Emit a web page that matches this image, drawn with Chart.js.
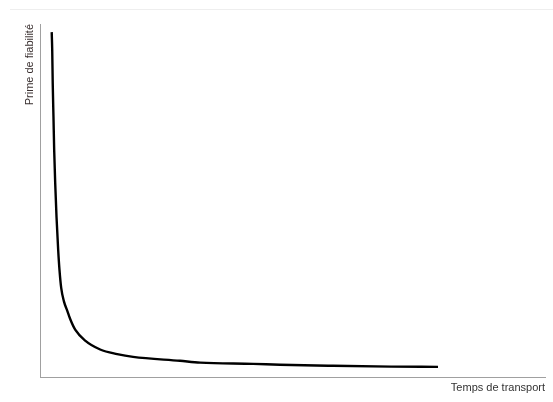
<!DOCTYPE html>
<html>
<head>
<meta charset="utf-8">
<script src="https://cdn.jsdelivr.net/npm/chart.js@4/dist/chart.umd.min.js"></script>
<style>
    html, body { margin: 0; padding: 0; background: #fff; }
    #wrap { position: relative; width: 553px; height: 402px; }
    #topline { position: absolute; left: 10px; top: 9px; width: 543px; border-top: 1px solid #eeeeee; }
    canvas { position: absolute; left: 0; top: 0; }
</style>
</head>
<body>
<div id="wrap">
    <div id="topline"></div>
    <canvas id="chart" width="553" height="402"></canvas>
</div>
<script>
// temps de transport (unités arbitraires) et prime de fiabilité
const tempsTransport = [2.28, 2.38, 2.48, 2.63, 2.77, 2.97, 3.23, 3.56, 3.82, 4.16, 4.7, 5.35, 5.94, 6.93, 8.91, 11.88, 15.25, 18.4, 27.7, 31.7, 42.2, 47.5, 57.8, 69.5, 78.8];
const primeFiabilite = [97.7, 92.7, 83.3, 73.7, 64.4, 55.1, 45.5, 36.2, 30.5, 25.4, 21.6, 19.0, 16.6, 13.6, 10.5, 8.0, 6.7, 5.9, 4.8, 4.3, 3.95, 3.7, 3.4, 3.15, 3.1];
const labelX = 'Temps de transport';
const labelY = 'Prime de fiabilité';

const points = tempsTransport.map((t, i) => ({ x: t, y: primeFiabilite[i] }));

const ctx = document.getElementById('chart').getContext('2d');

const myChart = new Chart(ctx, {
    type: 'line',
    data: {
        datasets: [{
            data: points,
            borderColor: '#000',
            borderWidth: 2.4,
            pointRadius: 0,
            fill: false,
            cubicInterpolationMode: 'monotone'
        }]
    },
    options: {
        responsive: false,
        animation: false,
        layout: { padding: { left: 19, right: 8, top: 24, bottom: 3 } },
        plugins: {
            legend: { display: false },
            tooltip: { enabled: false }
        },
        scales: {
            x: {
                type: 'linear',
                min: 0,
                max: 100,
                grid: { display: false, drawTicks: false },
                border: { display: true, color: '#a0a0a0', width: 1 },
                ticks: { display: false },
                title: {
                    display: true,
                    text: labelX,
                    align: 'end',
                    color: '#333',
                    font: { family: 'Liberation Sans, Arial', size: 11 },
                    padding: { top: 4, bottom: 4 }
                }
            },
            y: {
                min: 0,
                max: 100,
                grid: { display: false, drawTicks: false },
                border: { display: true, color: '#a0a0a0', width: 1 },
                ticks: { display: false },
                title: {
                    display: true,
                    text: labelY,
                    align: 'end',
                    color: '#3a3030',
                    font: { family: 'Liberation Sans, Arial', size: 11 },
                    padding: { top: 4, bottom: 4 }
                }
            }
        }
    }
});
</script>
</body>
</html>
